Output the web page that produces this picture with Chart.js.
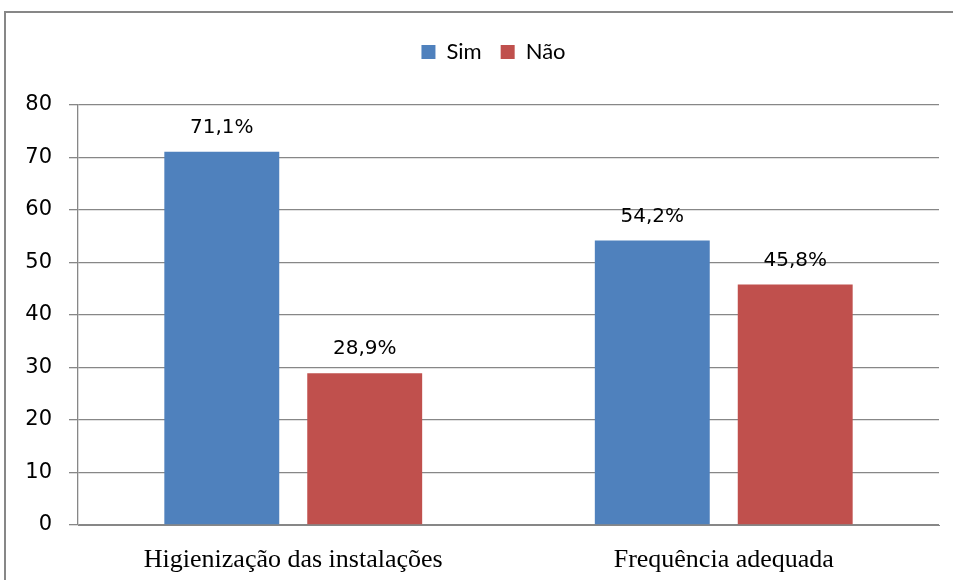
<!DOCTYPE html>
<html>
<head>
<meta charset="utf-8">
<script src="https://cdn.jsdelivr.net/npm/chart.js@4"></script>
<style>
  html, body { margin: 0; padding: 0; background: #fff; overflow: hidden; }
</style>
</head>
<body>
<canvas id="barChart" width="953" height="580"></canvas>
<script>
const categories = ["Higienização das instalações", "Frequência adequada"];
const seriesNames = ["Sim", "Não"];
const simValues = [71.1, 54.2];
const naoValues = [28.9, 45.8];
const yTicks = [0, 10, 20, 30, 40, 50, 60, 70, 80];

const gridColor = "#878787";

// moldura cinza: linha esquerda e linha do topo
const frame = {
  id: "frame",
  beforeDraw(chart) {
    const c = chart.ctx;
    c.save();
    c.fillStyle = gridColor;
    c.fillRect(4, 11, 2, chart.height - 11);
    c.fillRect(4, 11, chart.width - 4, 2);
    c.restore();
  },
};

// espaço extra abaixo da legenda e deslocamento horizontal
const legendSpace = {
  id: "legendSpace",
  beforeLayout(chart) {
    const lg = chart.legend;
    if (lg && !lg._patched) {
      const fit = lg.fit;
      lg.fit = function () {
        fit.call(this);
        this.height = 83;
      };
      lg._patched = true;
    }
  },
  afterLayout(chart) {
    const lg = chart.legend;
    if (lg) {
      lg.left += 24;
      lg.right += 24;
    }
  },
};

// rótulos de valor acima das barras
const valueLabels = {
  id: "valueLabels",
  afterDatasetsDraw(chart) {
    const c = chart.ctx;
    c.save();
    c.font = "20px 'DejaVu Sans'";
    c.fillStyle = "#000";
    c.textAlign = "center";
    c.textBaseline = "middle";
    chart.data.datasets.forEach((ds, i) => {
      chart.getDatasetMeta(i).data.forEach((bar, j) => {
        const txt = ds.data[j].toFixed(1).replace(".", ",") + "%";
        c.fillText(txt, bar.x, bar.y - 24);
      });
    });
    c.restore();
  },
};

let ctx = document.getElementById("barChart");

let barChart = new Chart(ctx, {
  type: "bar",
  data: {
    labels: categories,
    datasets: [
      {
        label: seriesNames[0],
        data: simValues,
        backgroundColor: "#4F81BD",
        categoryPercentage: 0.664,
        barPercentage: 0.804,
      },
      {
        label: seriesNames[1],
        data: naoValues,
        backgroundColor: "#C0504D",
        categoryPercentage: 0.664,
        barPercentage: 0.804,
      },
    ],
  },
  options: {
    responsive: false,
    animation: false,
    devicePixelRatio: 1,
    layout: {
      padding: { top: 22, right: 14, bottom: 0, left: 0 },
    },
    plugins: {
      legend: {
        position: "top",
        labels: {
          color: "#000",
          boxWidth: 14,
          boxHeight: 14,
          padding: 19,
          font: { family: "Lato", size: 22 },
        },
      },
      tooltip: { enabled: false },
    },
    scales: {
      x: {
        grid: { display: false },
        border: { display: true, color: gridColor },
        ticks: {
          color: "#000",
          padding: 12,
          font: { family: "'Liberation Serif'", size: 26 },
        },
        afterFit(s) {
          s.height = 55;
        },
      },
      y: {
        min: 0,
        max: 80,
        afterBuildTicks(s) {
          s.ticks = yTicks.map((v) => ({ value: v }));
        },
        grid: { color: gridColor, tickLength: 9, lineWidth: 1.3 },
        border: { display: true, color: gridColor, width: 1.3 },
        ticks: {
          color: "#000",
          padding: 17,
          font: { family: "'DejaVu Sans'", size: 21 },
        },
        afterFit(s) {
          s.width = 78;
        },
      },
    },
  },
  plugins: [frame, legendSpace, valueLabels],
});
</script>
</body>
</html>
